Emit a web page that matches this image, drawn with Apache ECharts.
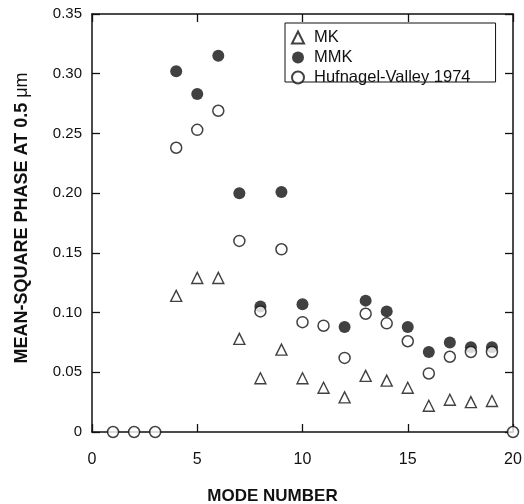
<!DOCTYPE html>
<html>
<head>
<meta charset="utf-8">
<style>
  html, body { margin: 0; padding: 0; background: #ffffff; }
  #chart { width: 524px; height: 504px; }
</style>
<script src="https://cdn.jsdelivr.net/npm/echarts@6/dist/echarts.min.js"></script>
</head>
<body>
<div id="chart"></div>
<script>
// Mean-square phase per Zernike mode for three turbulence profiles
const seriesNames = ['MK', 'MMK', 'Hufnagel-Valley 1974'];

const mkModes  = [4, 5, 6, 7, 8, 9, 10, 11, 12, 13, 14, 15, 16, 17, 18, 19];
const mkValues = [0.114, 0.129, 0.129, 0.078, 0.045, 0.069, 0.045, 0.037,
                  0.029, 0.047, 0.043, 0.037, 0.022, 0.027, 0.025, 0.026];

const mmkModes  = [4, 5, 6, 7, 8, 9, 10, 12, 13, 14, 15, 16, 17, 18, 19];
const mmkValues = [0.302, 0.283, 0.315, 0.200, 0.105, 0.201, 0.107, 0.088,
                   0.110, 0.101, 0.088, 0.067, 0.075, 0.071, 0.071];

const hvModes  = [1, 2, 3, 4, 5, 6, 7, 8, 9, 10, 11, 12, 13, 14, 15, 16, 17, 18, 19, 20];
const hvValues = [0, 0, 0, 0.238, 0.253, 0.269, 0.160, 0.101, 0.153, 0.092,
                  0.089, 0.062, 0.099, 0.091, 0.076, 0.049, 0.063, 0.067, 0.067, 0];

const xTickLabels = ['0', '5', '10', '15', '20'];
const yTickLabels = ['0', '0.05', '0.10', '0.15', '0.20', '0.25', '0.30', '0.35'];

const INK = '#111111';
const FONT = '"Liberation Sans", Arial, Helvetica, sans-serif';

function pairs(xs, ys) {
  return xs.map((x, i) => [x, ys[i]]);
}

const xLabel = v => xTickLabels[Math.round(v / 5)];
const yLabel = v => yTickLabels[Math.round(v / 0.05)];

const frameLine = { show: true, onZero: false, lineStyle: { color: INK, width: 1.5 } };
const innerTick = { show: true, inside: true, length: 8, lineStyle: { color: INK, width: 1.3 } };

const chart = echarts.init(document.getElementById('chart'), null, { renderer: 'canvas' });

chart.setOption({
  backgroundColor: '#ffffff',
  animation: false,
  grid: { left: 92, right: 11, top: 14, bottom: 72, containLabel: false, outerBoundsMode: 'none' },
  legend: {
    orient: 'vertical',
    left: 285,
    top: 23,
    data: seriesNames,
    itemWidth: 12,
    itemHeight: 12,
    itemGap: 3,
    padding: [6, 25, -4, 6],
    borderColor: INK,
    borderWidth: 1,
    backgroundColor: '#ffffff',
    textStyle: { fontFamily: FONT, fontSize: 16.5, color: INK, padding: [0, 0, 0, 5] },
    selectedMode: false
  },
  xAxis: [
    {
      type: 'value', position: 'bottom', min: 0, max: 20, interval: 5,
      axisLine: frameLine, axisTick: innerTick, splitLine: { show: false },
      axisLabel: { formatter: xLabel, color: INK, fontFamily: FONT, fontSize: 16, margin: 20 },
      name: 'MODE NUMBER', nameLocation: 'middle', nameGap: 56,
      nameTextStyle: { fontFamily: FONT, fontSize: 17, fontWeight: 'bold', color: INK, padding: [0, 60, 0, 0] }
    },
    {
      type: 'value', position: 'top', min: 0, max: 20, interval: 5,
      axisLine: frameLine, axisTick: innerTick, axisLabel: { show: false }, splitLine: { show: false }
    }
  ],
  yAxis: [
    {
      type: 'value', position: 'left', min: 0, max: 0.35, interval: 0.05,
      axisLine: frameLine, axisTick: innerTick, splitLine: { show: false },
      axisLabel: { formatter: yLabel, color: INK, fontFamily: FONT, fontSize: 15, margin: 10 },
      name: '{b|MEAN-SQUARE PHASE AT 0.5 }{n|\u03bcm}', nameLocation: 'middle', nameGap: 61, nameRotate: 90,
      nameTextStyle: {
        color: INK, padding: [0, 0, 0, 10],
        rich: {
          b: { fontFamily: FONT, fontSize: 18, fontWeight: 'bold', color: INK },
          n: { fontFamily: FONT, fontSize: 18, color: INK }
        }
      }
    },
    {
      type: 'value', position: 'right', min: 0, max: 0.35, interval: 0.05,
      axisLine: frameLine, axisTick: innerTick, axisLabel: { show: false }, splitLine: { show: false }
    }
  ],
  series: [
    {
      name: seriesNames[0], type: 'scatter', xAxisIndex: 0, yAxisIndex: 0, clip: false,
      symbol: 'triangle', symbolSize: 11,
      itemStyle: { color: '#ffffff', borderColor: INK, borderWidth: 1.4 },
      data: pairs(mkModes, mkValues)
    },
    {
      name: seriesNames[1], type: 'scatter', xAxisIndex: 0, yAxisIndex: 0, clip: false,
      symbol: 'circle', symbolSize: 12,
      itemStyle: { color: INK, borderColor: INK, borderWidth: 0 },
      data: pairs(mmkModes, mmkValues)
    },
    {
      name: seriesNames[2], type: 'scatter', xAxisIndex: 0, yAxisIndex: 0, clip: false,
      symbol: 'circle', symbolSize: 11,
      itemStyle: { color: '#ffffff', borderColor: INK, borderWidth: 1.5 },
      data: pairs(hvModes, hvValues)
    }
  ]
});
</script>
</body>
</html>
